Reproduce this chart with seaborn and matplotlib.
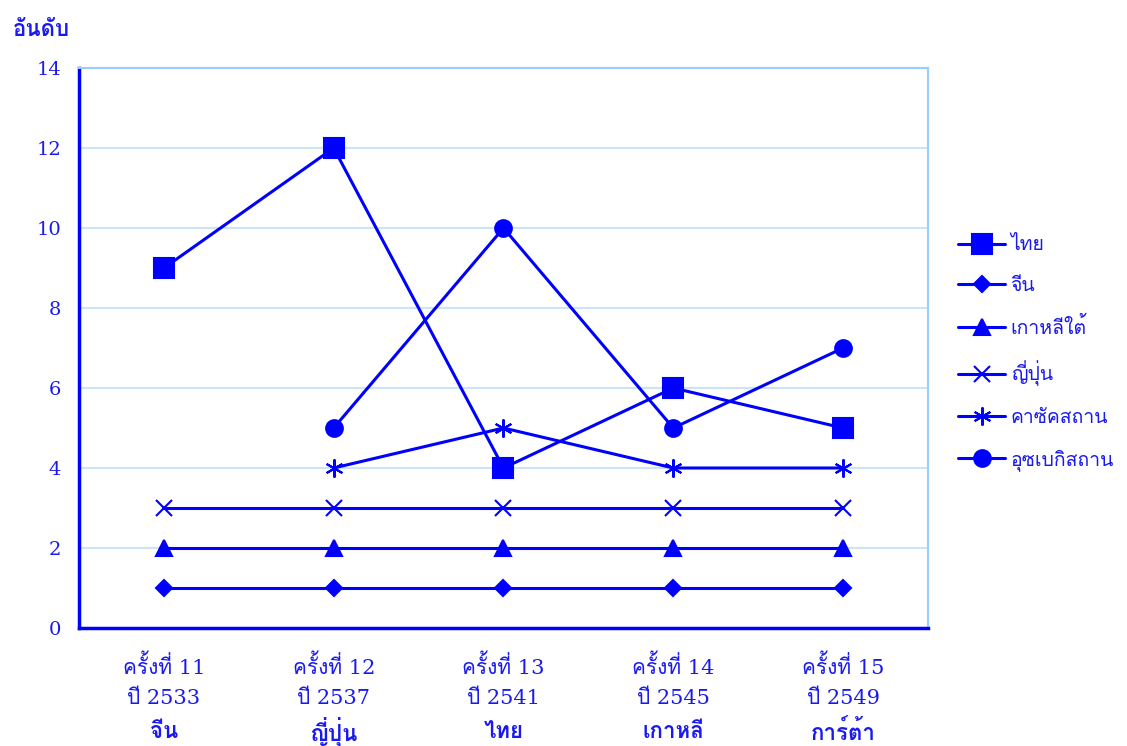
# Load the necessary libraries
import matplotlib
matplotlib.use("Agg")
import matplotlib.pyplot as plt
from matplotlib import font_manager
from matplotlib.ft2font import FT2Font
import seaborn as sns
import numpy as np
import pandas as pd

# Data
games = ["ครั้งที่ 11\nปี 2533", "ครั้งที่ 12\nปี 2537", "ครั้งที่ 13\nปี 2541",
         "ครั้งที่ 14\nปี 2545", "ครั้งที่ 15\nปี 2549"]
hosts = ["จีน", "ญี่ปุ่น", "ไทย", "เกาหลี", "การ์ต้า"]
thailand = [9, 12, 4, 6, 5]
china = [1, 1, 1, 1, 1]
korea = [2, 2, 2, 2, 2]
japan = [3, 3, 3, 3, 3]
kazakhstan = [np.nan, 4, 5, 4, 4]
uzbekistan = [np.nan, 5, 10, 5, 7]
series_names = ["ไทย", "จีน", "เกาหลีใต้", "ญี่ปุ่น", "คาซัคสถาน", "อุซเบกิสถาน"]
series_values = [thailand, china, korea, japan, kazakhstan, uzbekistan]

# Find a font that has Thai glyphs
thai_font = None
for f in font_manager.fontManager.ttflist:
    try:
        if ord("ไ") in FT2Font(f.fname).get_charmap():
            thai_font = f.name
            break
    except Exception:
        pass

sns.set_style("white")
fams = ["DejaVu Serif"] + ([thai_font] if thai_font else []) + ["DejaVu Sans"]
plt.rcParams["font.family"] = fams

blue = "#0000ff"
text_blue = "#1a1aee"

# Long-form table
rows = []
for name, vals in zip(series_names, series_values):
    for i, v in enumerate(vals):
        if not np.isnan(v):
            rows.append({"game": i, "rank": v, "country": name})
df = pd.DataFrame(rows)

markers = {"ไทย": "s", "จีน": "D", "เกาหลีใต้": "^", "ญี่ปุ่น": "x",
           "คาซัคสถาน": (6, 2, 0), "อุซเบกิสถาน": "o"}
msizes = {"ไทย": 15, "จีน": 8, "เกาหลีใต้": 12, "ญี่ปุ่น": 12,
          "คาซัคสถาน": 13, "อุซเบกิสถาน": 12}

fig = plt.figure(figsize=(11.27, 7.46), dpi=100)
ax = fig.add_axes([0.0701, 0.1582, 0.7533, 0.7506])

for name in series_names:
    sub = df[df["country"] == name]
    sns.lineplot(data=sub, x="game", y="rank", ax=ax, color=blue, lw=2.2,
                 marker=markers[name], markersize=msizes[name],
                 markeredgecolor=blue, markerfacecolor=blue, mew=1.5,
                 label=name, estimator=None)

ax.set_xlim(-0.5, 4.5)
ax.set_ylim(0, 14)
ax.set_yticks(range(0, 15, 2))
ax.yaxis.grid(True, color="#cce4f8", lw=1.5)
ax.set_axisbelow(True)

# X tick labels and ticks at category borders
ax.set_xticks(range(5))
ax.set_xticklabels(games, color=text_blue, fontsize=15, linespacing=1.75)
ax.tick_params(axis="x", which="major", length=0, pad=19)
ax.set_xticks(np.arange(0.5, 5, 1), minor=True)
ax.tick_params(axis="x", which="minor", length=5, width=1, color=blue, direction="out")
ax.tick_params(axis="y", length=4, width=1, color="#7777ff", pad=9,
               labelcolor=text_blue, labelsize=14)
for i, h in enumerate(hosts):
    ax.text(i, -0.186, h, transform=ax.get_xaxis_transform(), ha="center", va="center",
            fontsize=16, fontweight="bold", color=text_blue)

ax.set_xlabel("")
ax.set_ylabel("")
for s in ["left", "bottom"]:
    ax.spines[s].set_color(blue)
    ax.spines[s].set_linewidth(2.5)
for s in ["top", "right"]:
    ax.spines[s].set_color("#99ccff")
    ax.spines[s].set_linewidth(1.5)

fig.text(0.011, 0.96, "อันดับ", fontsize=16, fontweight="bold", color=text_blue,
         ha="left", va="center")

ax.legend(loc="center left", bbox_to_anchor=(1.015, 0.49), frameon=False,
          fontsize=14, labelcolor=text_blue, handlelength=2.4, labelspacing=1.15,
          handletextpad=0.3)

plt.savefig("out.png", dpi=100)
